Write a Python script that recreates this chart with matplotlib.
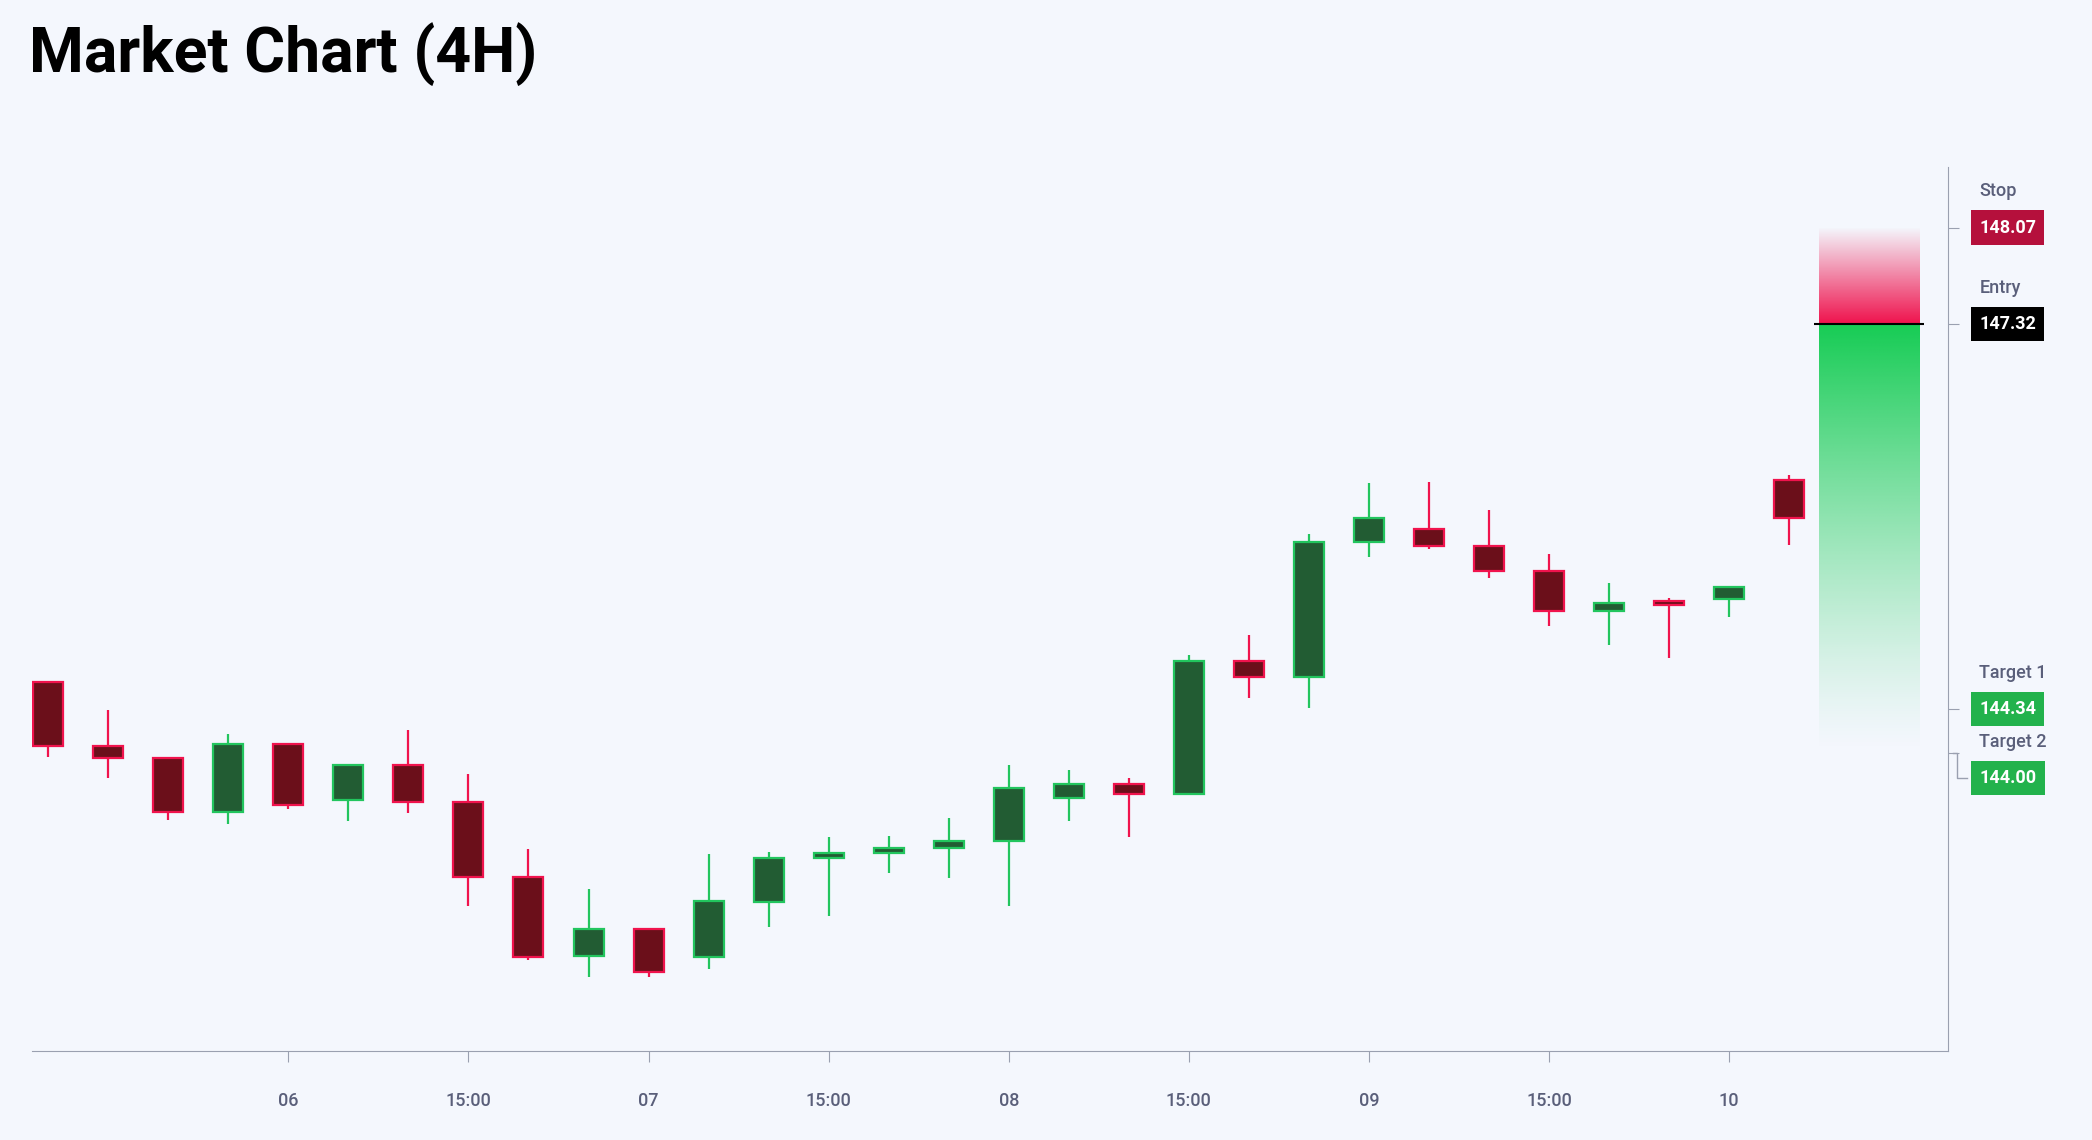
import matplotlib
matplotlib.use("Agg")
import matplotlib.pyplot as plt
import numpy as np

def p(y): return round(147.32 - (y - 243) / 96.6, 3)

opens_px  = [511,559,568,608,557,599,573,601,657,716,696,717,676,643,639,635,630,598,587,595,495,507,406,396,409,428,458,450,449,360]
closes_px = [559,568,608,557,603,573,601,657,717,696,728,675,643,639,635,630,590,587,595,495,507,406,388,409,428,458,452,453,440,388]
highs_px  = [511,532,567,550,557,572,547,580,636,666,696,640,638,627,626,613,573,577,583,491,476,400,362,361,382,415,437,448,440,356]
lows_px   = [567,583,614,617,606,615,609,679,719,732,732,726,694,686,654,658,679,615,627,595,523,530,417,411,433,469,483,493,462,408]
opens = [p(v) for v in opens_px]; closes = [p(v) for v in closes_px]
highs = [p(v) for v in highs_px]; lows = [p(v) for v in lows_px]
tick_pos = [4,7,10,13,16,19,22,25,28]
tick_labels = ["06","15:00","07","15:00","08","15:00","09","15:00","10"]
stop, entry, t1, t2 = 148.07, 147.32, 144.34, 144.00

BG = "#f4f7fd"
plt.rcParams['font.family'] = ['Roboto', 'DejaVu Sans']
fig = plt.figure(figsize=(20.92, 11.4), dpi=100, facecolor=BG)
ax = fig.add_axes([0.0153, 0.0785, 0.9157, 0.7751], facecolor=BG)

for i,(o,c,h,l) in enumerate(zip(opens,closes,highs,lows)):
    up = c >= o
    ec = "#22c55e" if up else "#f0134d"
    fc = "#225c33" if up else "#6b0f1a"
    ax.vlines(i, l, h, color=ec, lw=1.6, zorder=2)
    ax.bar(i, abs(c-o) if abs(c-o)>0.01 else 0.02, bottom=min(o,c), width=0.5,
           color=fc, edgecolor=ec, lw=1.6, zorder=3)

x0, x1 = 29.49, 31.16
n = 256
red = np.zeros((n,1,4)); red[...,0]=0.94; red[...,1]=0.07; red[...,2]=0.30
red[:,0,3] = np.linspace(1,0,n)
ax.imshow(red, extent=[x0,x1,entry,stop], origin="lower", aspect="auto", zorder=1, interpolation="bilinear")
grn = np.zeros((n,1,4)); grn[...,0]=0.09; grn[...,1]=0.80; grn[...,2]=0.33
grn[:,0,3] = np.linspace(0,1,n)**1.3
ax.imshow(grn, extent=[x0,x1,t2,entry], origin="lower", aspect="auto", zorder=1, interpolation="bilinear")
ax.hlines(entry, x0-0.07, x1+0.09, color="black", lw=1.5, zorder=4)

ax.set_xlim(-0.27, 31.64)
ax.set_ylim(141.69, 148.54)
for s in ["top","left"]: ax.spines[s].set_visible(False)
for s in ["bottom","right"]: ax.spines[s].set_color("#9aa0b0")
ax.set_xticks(tick_pos); ax.set_xticklabels(tick_labels, fontsize=13, color="#5a5f7a", fontweight="medium")
ax.tick_params(axis="x", length=8, color="#9aa0b0", pad=22)
ax.yaxis.tick_right()
ax.set_yticks([stop, entry, t1, t2]); ax.set_yticklabels([])
ax.tick_params(axis="y", length=8, color="#9aa0b0")

tags = [("Stop", stop, stop, "#b5103c"), ("Entry", entry, entry, "#000000"),
        ("Target 1", t1, t1, "#22b24c"), ("Target 2", t2, t2 - 0.2, "#22b24c")]
tx = 1.0165
for name, val, ypos, col in tags:
    ax.text(tx, ypos, f"{val:.2f}", transform=ax.get_yaxis_transform(), fontsize=13,
            color="white", va="center", ha="left", fontweight="bold",
            bbox=dict(boxstyle="square,pad=0.45", fc=col, ec="none"))
    ax.text(tx, ypos + 0.28, name, transform=ax.get_yaxis_transform(), fontsize=13,
            color="#5a5f7a", va="center", ha="left", fontweight="medium")
ax.plot([1.003, 1.005, 1.005, 1.010], [t2, t2, t2-0.2, t2-0.2], transform=ax.get_yaxis_transform(),
        color="#9aa0b0", lw=1, clip_on=False)

fig.text(0.014, 0.953, "Market Chart (4H)", fontsize=45, fontweight="bold", va="center", ha="left")
fig.savefig("out.png", dpi=100, facecolor=BG)
